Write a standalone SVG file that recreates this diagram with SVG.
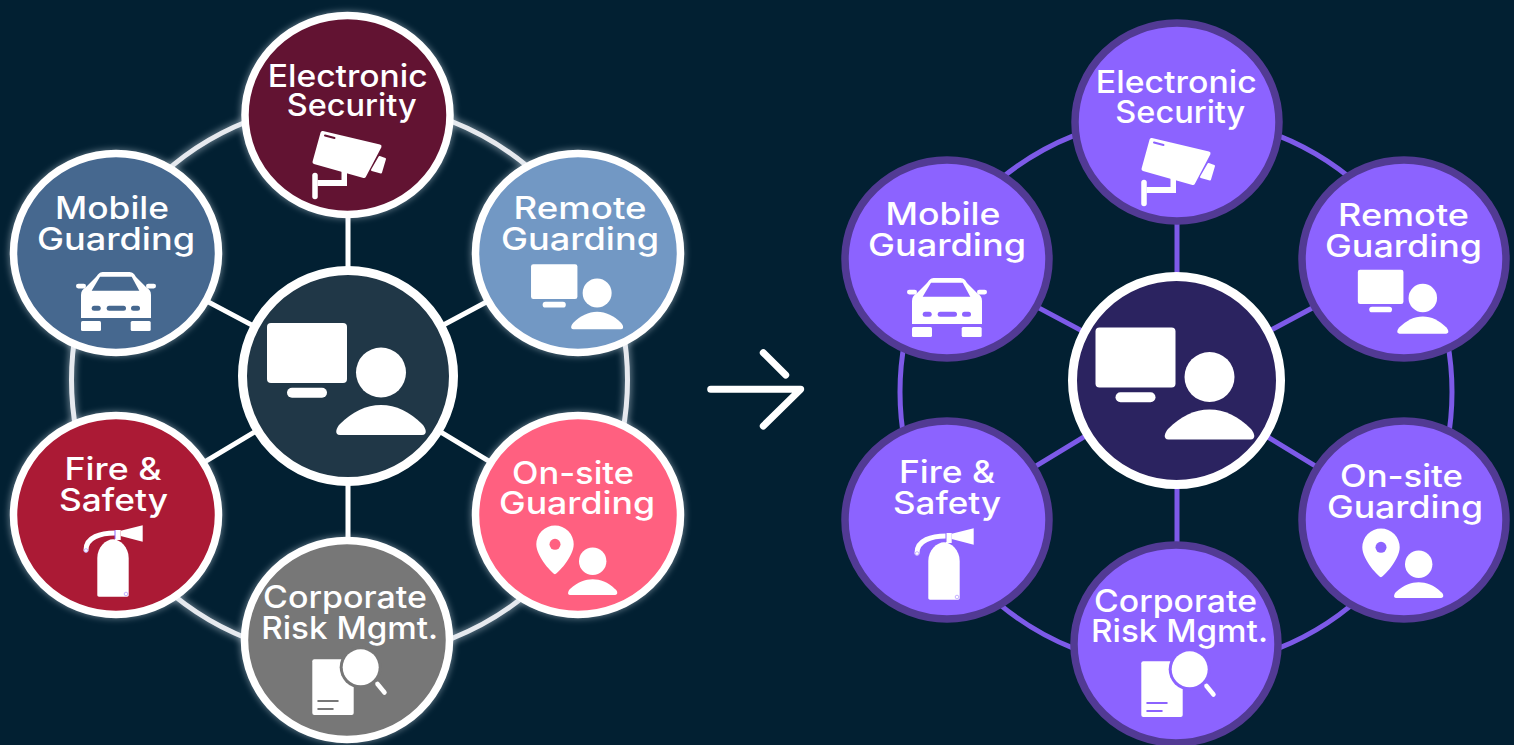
<svg xmlns="http://www.w3.org/2000/svg" width="1514" height="745" viewBox="0 0 1514 745">
<style>
.disc{stroke-width:7.500}
.a .disc{stroke:#fff}
.b .disc{stroke:#523a94;fill:#8c63ff}
.hub{stroke:#fff;stroke-width:9}
.halo{fill:none;stroke:#dfeaf5;stroke-width:9;opacity:.4;filter:url(#blur)}
text{font-family:Inter,"Liberation Sans",sans-serif;font-size:31px;font-weight:500;fill:#fff;text-anchor:middle}
.i{fill:#fff}
.cut{fill:var(--n)}
.cutl{stroke:var(--n);fill:none;stroke-linecap:round}
.w{stroke:#fff;fill:none;stroke-linecap:round}
.ringA{fill:none;stroke:#e6e9ee;stroke-width:5}
.spokeA{stroke:#fff;stroke-width:5;fill:none}
.ringB{fill:none;stroke:#7d5ae8;stroke-width:5}
.spokeB{stroke:#7d5ae8;stroke-width:5;fill:none}
.arrow{stroke:#fff;stroke-width:7;stroke-linecap:round;stroke-linejoin:round;fill:none}
</style>
<defs>
<filter id="blur" x="-20%" y="-20%" width="140%" height="140%"><feGaussianBlur stdDeviation="3"/></filter>
<g id="camera">
<path class="i" stroke="#fff" stroke-width="4" stroke-linejoin="round" d="M-25 18L32 31.500L16.500 61L-33 47Z"/>
<path class="cutl" stroke-width="2" d="M-22.500 20.500L-13 23"/>
<path class="i" stroke="#fff" stroke-width="2" stroke-linejoin="round" d="M32 42L37.500 44L33.500 57.500L24.500 55Z"/>
<path class="w" stroke-width="5.500" d="M-32.500 60.500V81.500"/>
<path class="i" d="M-30 65H-6V54.500L-.5 56V71H-30Z"/>
</g>
<g id="desk">
<rect class="i" x="-81" y="-53" width="80" height="60" rx="4"/>
<rect class="i" x="-61" y="11.700" width="40" height="10" rx="5"/>
<circle class="i" cx="33" cy="-3.500" r="25"/>
<path class="i" d="M-8 59C-14 59-12 52-8 48C4 36 18 29 33 29C48 29 62 36 74 48C78 52 80 59 74 59Z"/>
</g>
<g id="car">
<path class="i" d="M-35 65V42C-35 38-33 36-30 34L-20 24C-17 20-16 19-12 19H12C16 19 18 20 20 24L30 34C33 36 35 38 35 42V65Z"/>
<path class="cut" d="M-16 23.700H15.700L23.300 37.700H-24.300Z"/>
<rect class="i" x="-40" y="30.700" width="10" height="4.700" rx="2.300"/>
<rect class="i" x="30" y="30.700" width="10" height="4.700" rx="2.300"/>
<rect class="cut" x="-24.300" y="52.700" width="9" height="5" rx="2.500"/>
<rect class="cut" x="-9.300" y="52.700" width="19.300" height="5" rx="2.500"/>
<rect class="cut" x="15" y="52.700" width="9" height="5" rx="2.500"/>
<rect class="i" x="-35" y="68" width="20" height="10" rx="1.500"/>
<rect class="i" x="14.700" y="68" width="20" height="10" rx="1.500"/>
</g>
<g id="ext">
<path class="i" d="M-18.700 80V43C-18.700 32-10 24.300-3 24.300C4 24.300 12.700 32 12.700 43V80C12.700 81 12 81.700 11 81.700H-17C-18 81.700-18.700 81-18.700 80Z"/>
<rect class="i" x="-1" y="15" width="5.700" height="10"/>
<path class="i" d="M4.700 15.700L26.700 10.300V26.700L4.700 21Z"/>
<path class="w" stroke-width="5" d="M-1 18C-15 18-30 22-30 35"/>
<circle cx="-30" cy="35.500" r="1.800" fill="#fff" stroke="#b8a0ff" stroke-width=".8"/>
<circle cx="10" cy="79" r="1.800" fill="#fff" stroke="#b8a0ff" stroke-width=".8"/>
<path d="M-1 15V24" stroke="#8c63ff" stroke-width="1"/>
</g>
<g id="pinperson">
<path class="i" d="M-23 59.300C-25 59.300-41.700 42-41.700 29.300A18.700 18.700 0 0 1-4.300 29.300C-4.300 42-21 59.300-23 59.300Z"/>
<circle class="cut" cx="-23" cy="29.300" r="5.500"/>
<circle class="i" cx="14.700" cy="46.300" r="13.700"/>
<path class="i" d="M-8 80C-11 80-10 76-8 74C0 67 7 64.300 14.700 64.300C22 64.300 30 67 37 74C40 76 40 80 37 80Z"/>
</g>
<g id="doc">
<rect class="i" x="-34.700" y="19.300" width="41.400" height="55.700" rx="2"/>
<circle class="cut" cx="13.700" cy="27.300" r="21"/>
<circle class="i" cx="13.700" cy="27.300" r="18"/>
<path class="w" stroke-width="4.500" d="M30.500 44L37.500 52.500"/>
<path class="cutl" stroke-width="2.200" d="M-28.700 61H-9.300M-28.700 69H-14.300"/>
</g>
</defs>
<rect width="1514" height="745" fill="#022032"/>
<g id="connectors">
<circle class="halo" cx="349.500" cy="380" r="278"/>
<circle class="ringA" cx="349.500" cy="380" r="278"/>
<path class="spokeA" d="M348 115V640M116 253L348 376L578 253M116 515L348 376L578 515"/>
<circle class="ringB" cx="1176" cy="392" r="276"/>
<path class="spokeB" d="M1177 122V645M947 259L1176 381L1404 259M947 520L1176 381L1404 520"/>
<path class="arrow" d="M710.700 389.300H800.700L763.300 426M763.300 352.700L785.700 375"/>
</g>
<g id="left-hub" class="a" style="--n:#203747">
<circle class="hub" cx="348" cy="376" r="105.500" fill="#203747"/>
<use href="#desk" x="348" y="376"/>
</g>
<g id="left-electronic" class="a" style="--n:#621332">
<ellipse class="halo" cx="347.500" cy="115" rx="103" ry="99.500"/>
<ellipse class="disc" cx="347.500" cy="115" rx="102.500" ry="99.500" fill="#621332"/>
<text x="347.700" y="87" textLength="160" lengthAdjust="spacingAndGlyphs">Electronic</text>
<text x="351.700" y="115.500" textLength="130" lengthAdjust="spacingAndGlyphs">Security</text>
<use href="#camera" x="347.500" y="115"/>
</g>
<g id="left-mobile" class="a" style="--n:#46688f">
<ellipse class="halo" cx="116" cy="253" rx="103" ry="99.500"/>
<ellipse class="disc" cx="116" cy="253" rx="102.500" ry="99.500" fill="#46688f"/>
<text x="112" y="219" textLength="114" lengthAdjust="spacingAndGlyphs">Mobile</text>
<text x="116" y="250" textLength="158" lengthAdjust="spacingAndGlyphs">Guarding</text>
<use href="#car" x="116" y="253"/>
</g>
<g id="left-remote" class="a" style="--n:#7298c4">
<ellipse class="halo" cx="578" cy="253" rx="103" ry="99.500"/>
<ellipse class="disc" cx="578" cy="253" rx="102.500" ry="99.500" fill="#7298c4"/>
<text x="580" y="219" textLength="133" lengthAdjust="spacingAndGlyphs">Remote</text>
<text x="580" y="250" textLength="158" lengthAdjust="spacingAndGlyphs">Guarding</text>
<use href="#desk" transform="translate(578 295) scale(.58)"/>
</g>
<g id="left-fire" class="a" style="--n:#ab1a35">
<ellipse class="halo" cx="116" cy="515" rx="103" ry="99.500"/>
<ellipse class="disc" cx="116" cy="515" rx="102.500" ry="99.500" fill="#ab1a35"/>
<text x="113" y="480" textLength="97" lengthAdjust="spacingAndGlyphs">Fire &amp;</text>
<text x="113.500" y="510.700" textLength="109" lengthAdjust="spacingAndGlyphs">Safety</text>
<use href="#ext" x="116" y="515"/>
</g>
<g id="left-onsite" class="a" style="--n:#ff6080">
<ellipse class="halo" cx="578" cy="515" rx="103" ry="99.500"/>
<ellipse class="disc" cx="578" cy="515" rx="102.500" ry="99.500" fill="#ff6080"/>
<text x="573" y="484" textLength="122" lengthAdjust="spacingAndGlyphs">On-site</text>
<text x="577" y="514" textLength="156" lengthAdjust="spacingAndGlyphs">Guarding</text>
<use href="#pinperson" x="578" y="515"/>
</g>
<g id="left-corporate" class="a" style="--n:#777777">
<ellipse class="halo" cx="347" cy="640" rx="103" ry="99.500"/>
<ellipse class="disc" cx="347" cy="640" rx="102.500" ry="99.500" fill="#777777"/>
<text x="345" y="608" textLength="164" lengthAdjust="spacingAndGlyphs">Corporate</text>
<text x="349.700" y="639" textLength="177" lengthAdjust="spacingAndGlyphs">Risk Mgmt.</text>
<use href="#doc" x="347" y="640"/>
</g>
<g id="right-hub" class="b" style="--n:#2b2360">
<circle class="hub" cx="1176.500" cy="380.500" r="104" fill="#2b2360"/>
<use href="#desk" x="1176.500" y="380.500"/>
</g>
<g id="right-electronic" class="b" style="--n:#8c63ff">
<ellipse class="disc" cx="1177" cy="122" rx="102" ry="99"/>
<text x="1176.300" y="93" textLength="161" lengthAdjust="spacingAndGlyphs">Electronic</text>
<text x="1180.300" y="122.700" textLength="130" lengthAdjust="spacingAndGlyphs">Security</text>
<use href="#camera" x="1176.500" y="122"/>
</g>
<g id="right-mobile" class="b" style="--n:#8c63ff">
<ellipse class="disc" cx="947" cy="259" rx="102" ry="99"/>
<text x="943" y="225" textLength="115" lengthAdjust="spacingAndGlyphs">Mobile</text>
<text x="947" y="256" textLength="158" lengthAdjust="spacingAndGlyphs">Guarding</text>
<use href="#car" x="947" y="259"/>
</g>
<g id="right-remote" class="b" style="--n:#8c63ff">
<ellipse class="disc" cx="1404" cy="259" rx="102" ry="99"/>
<text x="1403.500" y="226" textLength="131" lengthAdjust="spacingAndGlyphs">Remote</text>
<text x="1403.500" y="257" textLength="157" lengthAdjust="spacingAndGlyphs">Guarding</text>
<use href="#desk" transform="translate(1404 300) scale(.57)"/>
</g>
<g id="right-fire" class="b" style="--n:#8c63ff">
<ellipse class="disc" cx="947" cy="520" rx="102" ry="99"/>
<text x="947" y="483" textLength="96" lengthAdjust="spacingAndGlyphs">Fire &amp;</text>
<text x="947" y="514" textLength="108" lengthAdjust="spacingAndGlyphs">Safety</text>
<use href="#ext" x="947" y="518"/>
</g>
<g id="right-onsite" class="b" style="--n:#8c63ff">
<ellipse class="disc" cx="1404" cy="520" rx="102" ry="99"/>
<text x="1401.500" y="487" textLength="123" lengthAdjust="spacingAndGlyphs">On-site</text>
<text x="1405" y="518" textLength="156" lengthAdjust="spacingAndGlyphs">Guarding</text>
<use href="#pinperson" x="1404" y="518"/>
</g>
<g id="right-corporate" class="b" style="--n:#8c63ff">
<ellipse class="disc" cx="1176" cy="644" rx="102" ry="99"/>
<text x="1175.500" y="612" textLength="163" lengthAdjust="spacingAndGlyphs">Corporate</text>
<text x="1179.500" y="642" textLength="177" lengthAdjust="spacingAndGlyphs">Risk Mgmt.</text>
<use href="#doc" x="1176" y="642"/>
</g>
</svg>
